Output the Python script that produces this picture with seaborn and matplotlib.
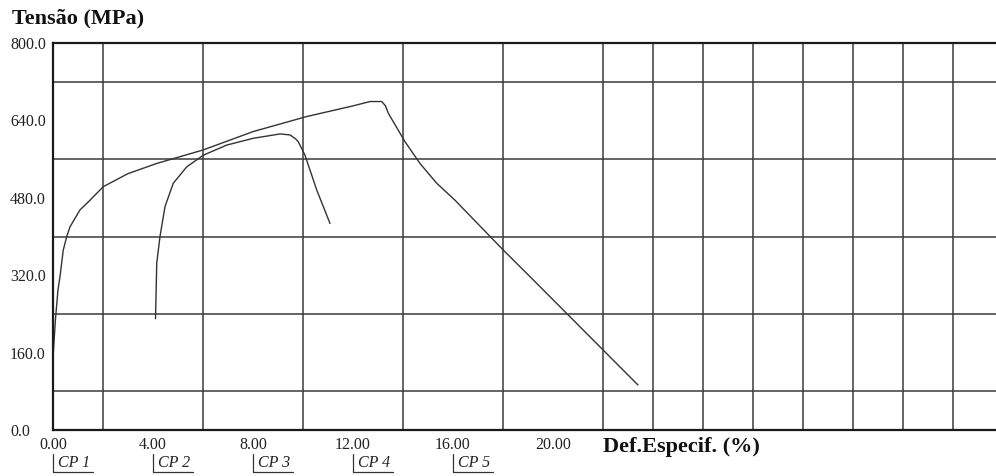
import numpy as np
import pandas as pd
import matplotlib
matplotlib.use("Agg")
import matplotlib.pyplot as plt
import matplotlib.transforms as mtransforms
import seaborn as sns

# ---- data ----
cp1_strain = [0.0, 0.1, 0.2, 0.28, 0.41, 0.55, 0.68, 1.08, 1.48, 2.01, 3.0, 4.15, 6.01,
              8.01, 10.15, 12.0, 12.68, 13.15, 13.3, 13.41, 14.08, 14.68, 15.35, 16.08,
              18.01, 19.08, 23.4]
cp1_stress = [150, 230, 290, 317, 372, 400, 420, 455, 475, 503, 530, 551, 579,
              617, 648, 670, 679, 679, 670, 655, 596, 551, 510, 475,
              372, 317, 93]
cp2_strain = [4.1, 4.15, 4.28, 4.48, 4.81, 5.35, 6.01, 6.95, 8.01, 9.08, 9.48, 9.7,
              9.81, 10.08, 10.55, 11.08]
cp2_stress = [230, 345, 400, 462, 510, 544, 568, 589, 603, 612, 610, 602,
              596, 568, 496, 427]

y_ticks = [0, 160, 320, 480, 640, 800]
y_tick_labels = ["0.0", "160.0", "320.0", "480.0", "640.0", "800.0"]
x_ticks = [0, 4, 8, 12, 16, 20]
x_tick_labels = ["0.00", "4.00", "8.00", "12.00", "16.00", "20.00"]
cp_labels = ["CP 1", "CP 2", "CP 3", "CP 4", "CP 5"]
cp_positions = [0, 4, 8, 12, 16]

df = pd.concat([
    pd.DataFrame({"strain": cp1_strain, "stress": cp1_stress, "cp": "CP1"}),
    pd.DataFrame({"strain": cp2_strain, "stress": cp2_stress, "cp": "CP2"}),
])

sns.set_style("white")
plt.rcParams["font.family"] = ["Liberation Serif", "DejaVu Serif"]

W, H = 996, 476
fig = plt.figure(figsize=(W / 100, H / 100), dpi=100)
ax = fig.add_axes([53 / W, (H - 430) / H, 1 - 53 / W, (430 - 43) / H])

XMAX = (W - 53) / 25.0
ax.set_xlim(0, XMAX)
ax.set_ylim(0, 800)

# grid
ax.set_xticks(np.arange(0, XMAX, 2), minor=True)
ax.set_yticks(np.arange(0, 801, 80), minor=True)
ax.grid(which="minor", color="#3a3a3a", lw=1.1)
ax.tick_params(which="both", length=0)
ax.set_axisbelow(True)

sns.lineplot(data=df, x="strain", y="stress", units="cp", estimator=None, sort=False,
             color="#333333", lw=1.0, ax=ax, legend=False)

for side in ["left", "bottom", "top"]:
    ax.spines[side].set_color("#1a1a1a")
    ax.spines[side].set_linewidth(1.6)
ax.spines["right"].set_visible(False)

ax.set_xlabel("")
ax.set_ylabel("")
ax.set_yticks(y_ticks)
ax.set_yticklabels(y_tick_labels, fontsize=11.5, color="#222222", ha="left")
ax.tick_params(axis="y", pad=31)
ax.set_xticks(x_ticks)
ax.set_xticklabels(x_tick_labels, fontsize=11.5, color="#222222")
ax.tick_params(axis="x", pad=5)

# CP labels with bracket marks
trans = mtransforms.blended_transform_factory(ax.transData, fig.transFigure)
for pos, lab in zip(cp_positions, cp_labels):
    ax.text(pos + 0.2, (H - 463) / H, lab, transform=trans, fontsize=11.5,
            style="italic", ha="left", va="center", color="#222222")
    ax.plot([pos, pos, pos + 1.6], [(H - 454) / H, (H - 472) / H, (H - 472) / H],
            transform=trans, color="#333333", lw=0.9, clip_on=False)

fig.text(12 / W, (H - 18) / H, "Tensão (MPa)", fontsize=16, fontweight="bold",
         ha="left", va="center", color="#111111")
fig.text(603 / W, (H - 447) / H, "Def.Especif. (%)", fontsize=16, fontweight="bold",
         ha="left", va="center", color="#111111")

fig.savefig("out.png", dpi=100)
